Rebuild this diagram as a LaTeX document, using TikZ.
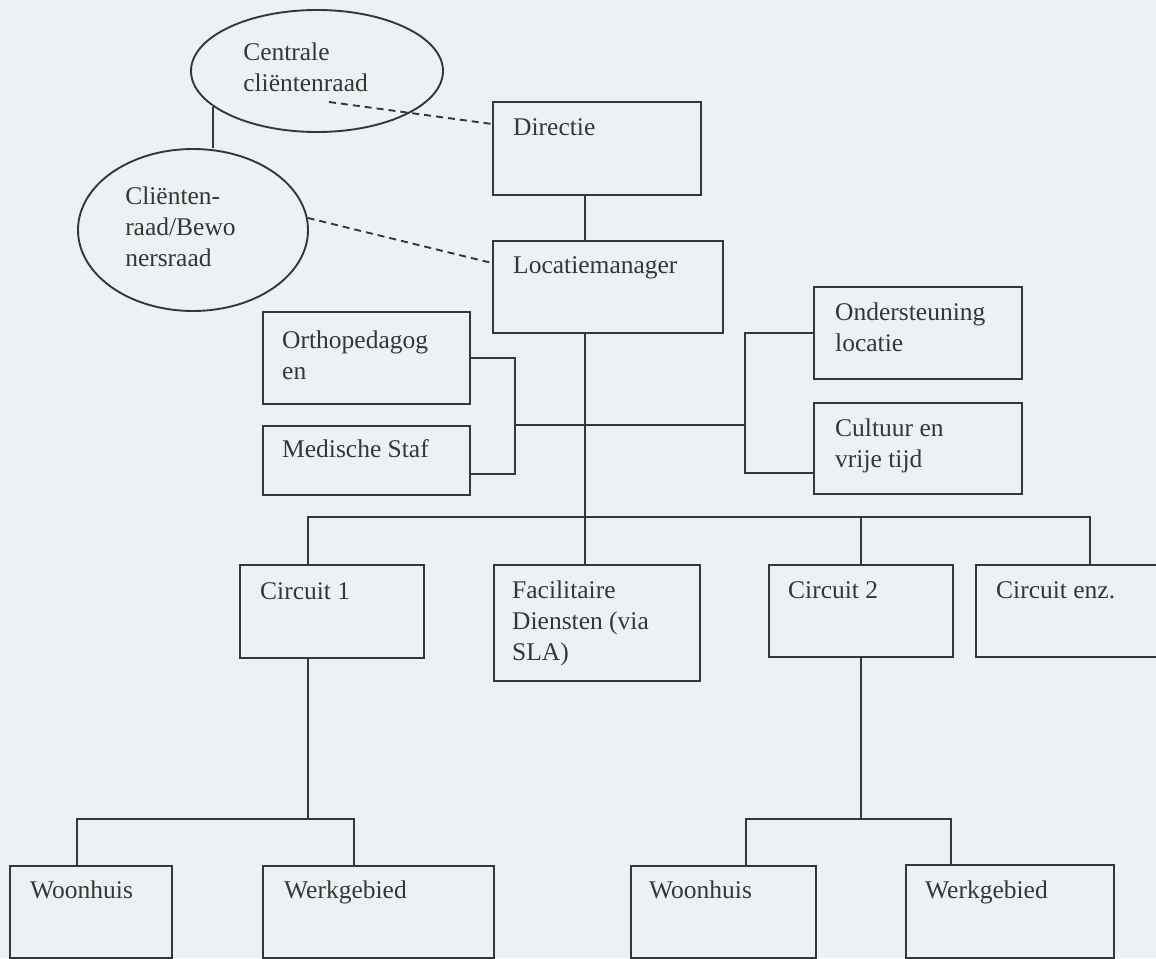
\documentclass[tikz,border=0pt]{standalone}
\usepackage{fontspec}
\setmainfont{Liberation Serif}
\usetikzlibrary{shapes.geometric,calc}
\definecolor{paper}{HTML}{EEF1F4}
\definecolor{ink}{HTML}{363636}
\begin{document}
\begin{tikzpicture}[x=1pt,y=-1pt,
  box/.style={draw=ink, line width=1.9pt, rectangle, inner sep=0pt, anchor=north west},
  oval/.style={draw=ink, line width=1.9pt, ellipse, inner sep=0pt},
  txt/.style={text=ink, font=\fontsize{25.5}{31}\selectfont, align=left, inner sep=0pt, anchor=base west},
  link/.style={draw=ink, line width=1.9pt},
  dashlink/.style={link, dash pattern=on 7pt off 5pt}]
\clip (0,0) rectangle (1156,958);
\fill[paper] (0,0) rectangle (1156,958);

% client councils (multi-line labels sit on the baseline of their last line)
\node[oval, minimum width=252pt, minimum height=122pt,
  label={[txt, xshift=53pt, yshift=-20pt]west:Centrale\\cliëntenraad}] (e1) at (317,71) {};
\node[oval, minimum width=230pt, minimum height=162pt,
  label={[txt, xshift=48pt, yshift=-36pt]west:Cliënten-\\raad/Bewo\\nersraad}] (e2) at (193,230) {};

% management
\node[box, minimum width=208pt, minimum height=93pt,
  label={[txt, xshift=21pt, yshift=-34pt]north west:Directie}] (dir) at (492,101) {};
\node[box, minimum width=230pt, minimum height=92pt,
  label={[txt, xshift=21pt, yshift=-33pt]north west:Locatiemanager}] (loc) at (492,240) {};

% staff units
\node[box, minimum width=207pt, minimum height=92pt,
  label={[txt, xshift=20pt, yshift=-68pt]north west:Orthopedagog\\en}] (ortho) at (262,311) {};
\node[box, minimum width=207pt, minimum height=69pt,
  label={[txt, xshift=20pt, yshift=-32pt]north west:Medische Staf}] (med) at (262,425) {};
\node[box, minimum width=208pt, minimum height=92pt,
  label={[txt, xshift=22pt, yshift=-65pt]north west:Ondersteuning\\locatie}] (ond) at (813,286) {};
\node[box, minimum width=208pt, minimum height=91pt,
  label={[txt, xshift=22pt, yshift=-65pt]north west:Cultuur en\\vrije tijd}] (cul) at (813,402) {};

% circuits and services
\node[box, minimum width=184pt, minimum height=93pt,
  label={[txt, xshift=21pt, yshift=-35pt]north west:Circuit 1}] (c1) at (239,564) {};
\node[box, minimum width=206pt, minimum height=116pt,
  label={[txt, xshift=19pt, yshift=-96pt]north west:Facilitaire\\Diensten (via\\SLA)}] (fac) at (493,564) {};
\node[box, minimum width=184pt, minimum height=92pt,
  label={[txt, xshift=20pt, yshift=-34pt]north west:Circuit 2}] (c2) at (768,564) {};
\node[box, minimum width=200pt, minimum height=92pt,
  label={[txt, xshift=21pt, yshift=-34pt]north west:Circuit enz.}] (enz) at (975,564) {};

% houses and work areas
\node[box, minimum width=162pt, minimum height=92pt,
  label={[txt, xshift=21pt, yshift=-33pt]north west:Woonhuis}] (woon1) at (9,865) {};
\node[box, minimum width=231pt, minimum height=92pt,
  label={[txt, xshift=22pt, yshift=-33pt]north west:Werkgebied}] (werk1) at (262,865) {};
\node[box, minimum width=185pt, minimum height=92pt,
  label={[txt, xshift=19pt, yshift=-33pt]north west:Woonhuis}] (woon2) at (630,865) {};
\node[box, minimum width=208pt, minimum height=93pt,
  label={[txt, xshift=20pt, yshift=-34pt]north west:Werkgebied}] (werk2) at (905,864) {};

% helper coordinates for the tree lines
\coordinate (spine) at (585,0);
\coordinate (lbar) at (515,425);
\coordinate (rbar) at (745,425);
\coordinate (medtick) at ($(med.south east)+(0,-22)$);
\coordinate (cultick) at ($(cul.south west)+(0,-22)$);
\coordinate (busL) at (308,517);
\coordinate (busR) at (1090,517);
\coordinate (s1L) at (77,819);
\coordinate (s1R) at (354,819);
\coordinate (s2L) at (746,819);
\coordinate (s2R) at (951,819);

% council links
\draw[link] (e1.199.4) -- (e1.199.4 |- e2.north);
\draw[dashlink] ($(e1.center)+(12,31)$) -- ($(dir.north west)+(0,23)$);
\draw[dashlink] (e2.6) -- ($(loc.north west)+(0,23)$);

% hierarchy
\draw[link] (dir.south -| spine) -- (loc.north -| spine);
\draw[link] (loc.south -| spine) -- (fac.north -| spine);
\draw[link] (lbar) -- (rbar);
\draw[link] (ortho.east) -- (ortho.east -| lbar) -- (lbar |- medtick) -- (medtick);
\draw[link] (ond.west) -- (ond.west -| rbar) -- (rbar |- cultick) -- (cultick);
\draw[link] (c1.north -| busL) -- (busL) -- (busR) -- (enz.north -| busR);
\draw[link] (c2.north) -- (c2.north |- busL);
\draw[link] (c1.south -| busL) -- (busL |- s1L);
\draw[link] (woon1.north -| s1L) -- (s1L) -- (s1R) -- (werk1.north -| s1R);
\draw[link] (c2.south) -- (c2.south |- s2L);
\draw[link] (woon2.north -| s2L) -- (s2L) -- (s2R) -- (werk2.north -| s2R);
\end{tikzpicture}
\end{document}
